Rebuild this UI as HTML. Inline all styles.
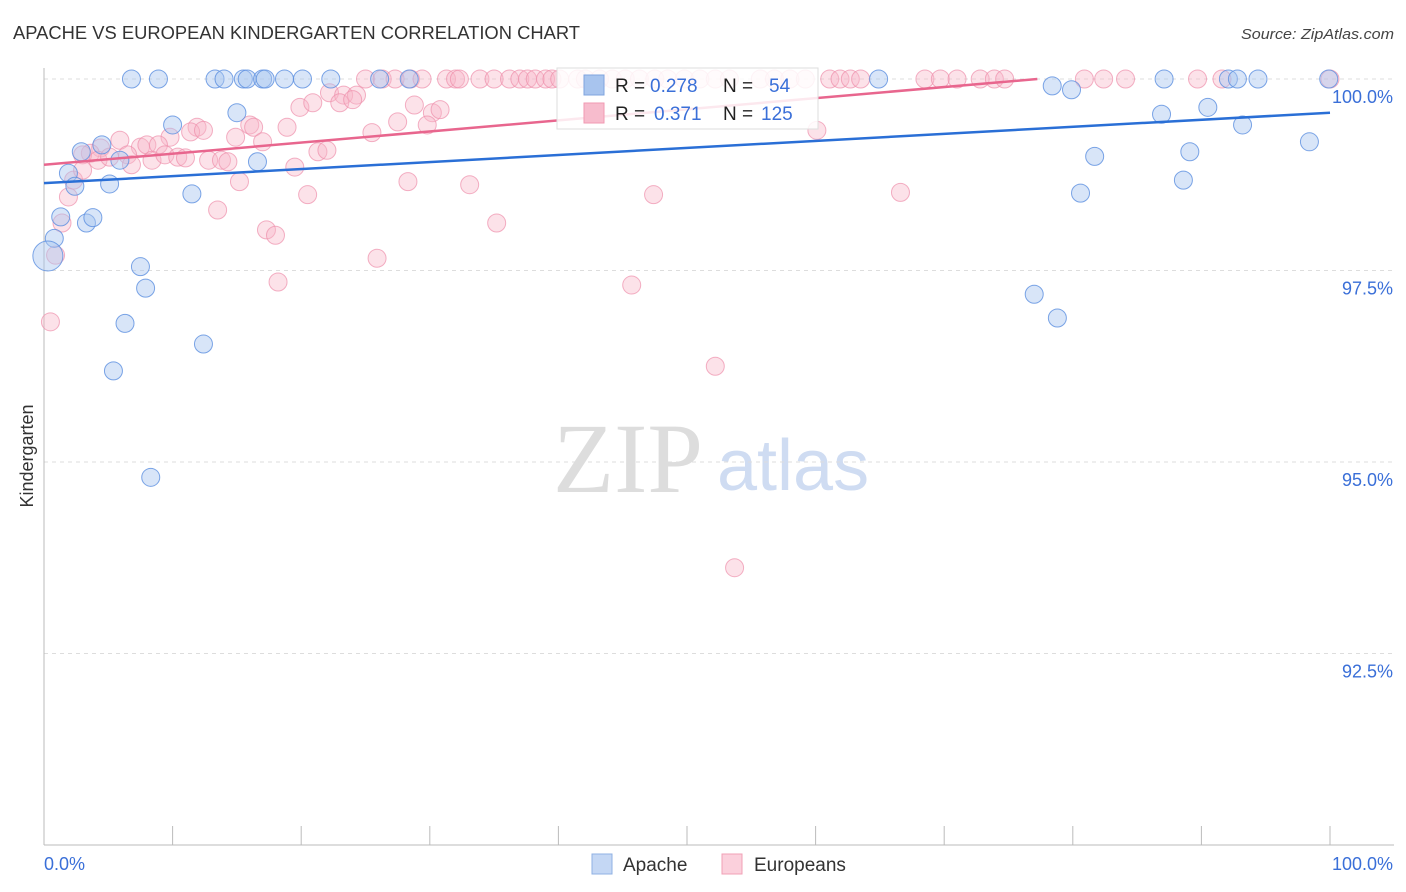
<!DOCTYPE html>
<html><head><meta charset="utf-8"><style>
body{margin:0;background:#fff;font-family:"Liberation Sans",sans-serif}
svg{display:block}
</style></head><body>
<svg id="c" width="1406" height="892" xmlns="http://www.w3.org/2000/svg">
<text x="13" y="39" font-size="18" fill="#333" textLength="567" lengthAdjust="spacingAndGlyphs">APACHE VS EUROPEAN KINDERGARTEN CORRELATION CHART</text>
<text x="1394" y="39" font-size="15" fill="#444" font-style="italic" text-anchor="end" textLength="153" lengthAdjust="spacingAndGlyphs">Source: ZipAtlas.com</text>
<g>
<text x="553" y="492" font-size="100" font-family="Liberation Serif,serif" fill="#ddd">ZIP</text>
<text x="717" y="490" font-size="72" fill="#cfdcf2">atlas</text>
</g>
<g id="grid"></g>
<g id="axes"></g>
<g id="marks"></g>
<g>
<rect x="557" y="68" width="261" height="61" fill="#fff" fill-opacity="0.85" stroke="#ddd"/>
<rect x="584" y="75" width="20" height="20" fill="#a8c4ee" stroke="#7fa4df"/>
<text y="92" font-size="19" fill="#222"><tspan x="615">R =</tspan><tspan x="650" fill="#3a6fd8">0.278</tspan><tspan x="723">N =</tspan><tspan x="769" fill="#3a6fd8">54</tspan></text>
<rect x="584" y="103" width="20" height="20" fill="#f7bccd" stroke="#f09ab2"/>
<text y="120" font-size="19" fill="#222"><tspan x="615">R =</tspan><tspan x="654" fill="#3a6fd8">0.371</tspan><tspan x="723">N =</tspan><tspan x="761" fill="#3a6fd8">125</tspan></text>
</g>
<g>
<rect x="592" y="854" width="20" height="20" fill="#c4d7f4" stroke="#8fb0e3"/>
<text x="623" y="871" font-size="19" fill="#333">Apache</text>
<rect x="722" y="854" width="20" height="20" fill="#fbd0dc" stroke="#f0a0b6"/>
<text x="754" y="871" font-size="19" fill="#333">Europeans</text>
</g>
<text x="33" y="456" font-size="18" fill="#333" transform="rotate(-90 33 456)" text-anchor="middle">Kindergarten</text>
</svg>
<script>
const yTicks=[100,97.5,95,92.5];
const yTickLabels=["100.0%","97.5%","95.0%","92.5%"];
const xTickLabels=["0.0%","100.0%"];
const apacheX=[6.8,8.9,13.3,14.0,15.5,15.8,17.0,17.2,18.7,20.1,22.3,26.1,28.4,64.9,87.1,92.1,92.8,94.4,99.9,
78.4,79.9,10.0,15.0,2.9,4.5,5.9,1.9,2.4,5.1,11.5,16.6,1.3,3.3,3.8,0.8,0.3,7.5,7.9,6.3,5.4,12.4,8.3,77.0,78.8,81.7,80.6,86.9,90.5,89.1,88.6,93.2,98.4];
const apacheY=[100,100,100,100,100,100,100,100,100,100,100,100,100,100,100,100,100,100,100,
99.91,99.86,99.40,99.56,99.05,99.14,98.94,98.77,98.60,98.63,98.50,98.92,98.20,98.12,98.19,97.92,97.69,97.55,97.27,96.81,96.19,96.54,94.80,97.19,96.88,98.99,98.51,99.54,99.63,99.05,98.68,99.40,99.18];
const apacheR=[9,9,9,9,9,9,9,9,9,9,9,9,9,9,9,9,9,9,9,9,9,9,9,9,9,9,9,9,9,9,9,9,9,9,9,15,9,9,9,9,9,9,9,9,9,9,9,9,9,9,9,9];
const euroX=[25.0,26.3,27.3,28.5,29.4,31.3,32.0,32.3,33.9,35.0,36.2,37.0,37.6,38.2,39.0,39.5,40.1,41.5,42.1,43.2,44.2,45.2,46.3,47.5,48.5,49.8,51.0,52.2,53.3,55.7,56.8,58.0,59.2,61.1,61.9,62.7,63.5,68.5,69.7,71.0,72.8,73.9,74.7,80.9,82.4,84.1,89.7,91.6,100,
22.2,23.3,24.3,23.0,24.0,19.9,20.9,28.8,30.2,30.8,27.5,29.8,25.5,18.9,16.0,16.3,14.9,17.0,11.9,11.4,12.4,9.8,5.9,7.5,8.0,8.9,4.4,3.6,3.0,4.2,5.1,6.5,6.8,8.4,9.4,10.4,11.0,12.8,13.8,14.3,21.3,22.0,19.5,15.2,20.5,28.3,33.1,35.2,13.5,17.3,18.0,25.9,18.2,0.5,1.9,1.4,0.9,2.3,3.0,47.4,60.1,66.6,45.7,52.2,53.7];
const euroY=[100,100,100,100,100,100,100,100,100,100,100,100,100,100,100,100,100,100,100,100,100,100,100,100,100,100,100,100,100,100,100,100,100,100,100,100,100,100,100,100,100,100,100,100,100,100,100,100,100,
99.82,99.79,99.79,99.69,99.73,99.63,99.69,99.66,99.56,99.60,99.44,99.40,99.30,99.37,99.40,99.37,99.24,99.18,99.37,99.31,99.33,99.24,99.20,99.11,99.14,99.14,99.10,99.03,99.01,98.94,98.98,99.01,98.88,98.94,99.01,98.98,98.97,98.94,98.94,98.92,99.05,99.07,98.85,98.66,98.49,98.66,98.62,98.12,98.29,98.03,97.96,97.66,97.35,96.83,98.46,98.12,97.70,98.68,98.81,98.49,99.33,98.52,97.31,96.25,93.62];
const euroR=euroX.map((v,i)=>[115,116,117].includes(i)?13:(i===114?12:9));
const trendApache=[98.64,99.56];
const trendEuro=[98.88,100.33];

const NS="http://www.w3.org/2000/svg";
const X=v=>44+v*12.86;
const Y=v=>79+(100-v)*76.6;
function mk(tag,attrs,parent){const e=document.createElementNS(NS,tag);for(const k in attrs)e.setAttribute(k,attrs[k]);parent.appendChild(e);return e;}
const grid=document.getElementById('grid'),axes=document.getElementById('axes'),marks=document.getElementById('marks');
yTicks.forEach((t,i)=>{
 const l=mk('line',{x1:44,x2:1394,y1:Y(t),y2:Y(t),stroke:'#ddd','stroke-dasharray':'4 4'},grid);
 
 
 const tx=mk('text',{x:1393,y:Y(t)+24,'font-size':18,fill:'#3a6fd8','text-anchor':'end'},axes);
 tx.textContent=yTickLabels[i];
 
 
});
let a=mk('line',{x1:44,x2:44,y1:68,y2:845,stroke:'#bbb'},axes);


a=mk('line',{x1:44,x2:1394,y1:845,y2:845,stroke:'#bbb'},axes);


for(let i=0;i<=10;i++){const t=mk('line',{x1:X(i*10),x2:X(i*10),y1:826,y2:845,stroke:'#bbb'},axes);
 
 }
let xl=mk('text',{x:44,y:870,'font-size':18,fill:'#3a6fd8'},axes);xl.textContent=xTickLabels[0];


xl=mk('text',{x:1393,y:870,'font-size':18,fill:'#3a6fd8','text-anchor':'end'},axes);xl.textContent=xTickLabels[1];



euroX.forEach((v,i)=>{const c=mk('circle',{cx:X(v),cy:Y(euroY[i]),r:euroR[i],fill:'#f7b6c8','fill-opacity':0.4,stroke:'#ee8fab','stroke-opacity':0.7},marks);
 
 });
apacheX.forEach((v,i)=>{const c=mk('circle',{cx:X(v),cy:Y(apacheY[i]),r:apacheR[i],fill:'#a9c6f0','fill-opacity':0.45,stroke:'#5b8fe0','stroke-opacity':0.8},marks);
 
 });
let tl=mk('line',{x1:X(0),y1:Y(trendApache[0]),x2:X(100),y2:Y(trendApache[1]),stroke:'#2a6fd6','stroke-width':2.5},marks);


const slope=(trendEuro[1]-trendEuro[0])/100;const xEnd=Math.min(100,(100-trendEuro[0])/slope);
tl=mk('line',{x1:X(0),y1:Y(trendEuro[0]),x2:X(xEnd),y2:Y(trendEuro[0]+slope*xEnd),stroke:'#e8668e','stroke-width':2.5},marks);


</script>
</body></html>
